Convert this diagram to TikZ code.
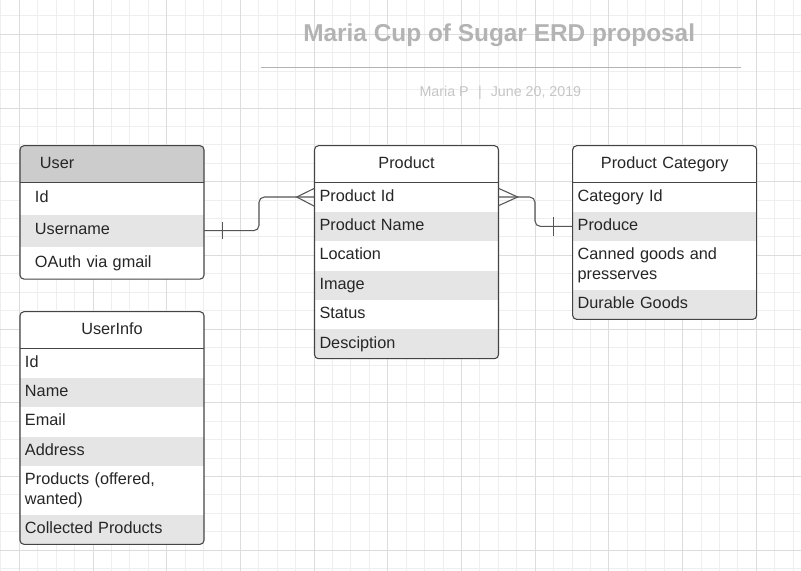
\documentclass[tikz,border=0pt]{standalone}
\usepackage{fontspec}
\setmainfont{Liberation Sans}
\usetikzlibrary{calc}
\definecolor{gminor}{HTML}{EEEEEE}
\definecolor{gmajor}{HTML}{DCDCDC}
\definecolor{hdrgray}{HTML}{CCCCCC}
\definecolor{rowgray}{HTML}{E5E5E5}
\definecolor{edgecol}{HTML}{444444}
\definecolor{conncol}{HTML}{555555}
\definecolor{inkcol}{HTML}{262626}
\definecolor{titlegray}{HTML}{B3B3B3}
\definecolor{subgray}{HTML}{C6C6C6}
\newcommand{\rowstrut}{\rule[-0.31em]{0pt}{1.117em}}
\begin{document}
\begin{tikzpicture}[x=0.75pt,y=-0.75pt,
  gridminor/.style={draw=gminor,line width=0.75pt},
  gridmajor/.style={draw=gmajor,line width=0.75pt},
  cell/.style={rectangle,anchor=north west,inner ysep=0pt,inner xsep=3.75pt,outer sep=0pt,
    text width=130.5pt,align=left,text=inkcol,minimum height=22.05pt,
    font=\fontsize{12.2pt}{14.5pt}\selectfont,
    execute at begin node=\rowstrut,execute at end node=\rowstrut},
  head/.style={cell,align=center,minimum height=27.45pt},
  ucell/.style={cell,inner xsep=11.25pt,text width=115.5pt,minimum height=24.2pt},
  shade/.style={fill=rowgray},
  frame/.style={draw=edgecol,line width=0.8pt,rounded corners=3pt},
  sep/.style={draw=edgecol,line width=0.8pt},
  conn/.style={draw=conncol,line width=0.8pt},
  titlestyle/.style={anchor=base,inner sep=0pt,text=titlegray,
    font=\fontsize{18.3pt}{22pt}\selectfont\bfseries},
  substyle/.style={inner sep=0pt,text=subgray,font=\fontsize{10.7pt}{13pt}\selectfont}
]
% background and bounding box
\fill[white] (0,0) rectangle (801,571);
\useasboundingbox (0,0) rectangle (801,571);
% grid
\foreach \i in {0,...,43} {\draw[gridminor] ({0.875+18.425*\i},0) -- ++(0,571);}
\foreach \i in {0,...,30} {\draw[gridminor] (0,{15.875+18.425*\i}) -- ++(801,0);}
\foreach \i in {0,...,10} {\draw[gridmajor] ({19.3+73.7*\i},0) -- ++(0,571);}
\foreach \i in {0,...,7} {\draw[gridmajor] (0,{34.3+73.7*\i}) -- ++(801,0);}

% title
\node[titlestyle] (title) at (499.2,41.7) {Maria Cup of Sugar ERD proposal};
\draw[titlegray,line width=1pt] (260.7,67.7) -- (740.7,67.7);
\node[substyle,anchor=base east] (subname) at (469,96) {Maria P};
\node[substyle,anchor=base] (subbar) at (480,96) {|};
\node[substyle,anchor=base west] (subdate) at (490.5,96) {June 20, 2019};

% User table
\begin{scope}
\clip[rounded corners=3pt] (20,145.7) rectangle (204,279.2);
\node[cell,fill=hdrgray,inner xsep=15pt,text width=108pt,minimum height=27.45pt] (uHead) at (20,145.7) {User};
\node[ucell,fill=white] (uId) at (uHead.south west) {Id};
\node[ucell,shade] (uUsername) at (uId.south west) {Username};
\node[ucell,fill=white] (uOAuth) at (uUsername.south west) {OAuth via gmail};
\end{scope}
\draw[frame] (uHead.north west) rectangle (uOAuth.south east);
\draw[sep] (uHead.south west) -- (uHead.south east);

% Product table
\begin{scope}
\clip[rounded corners=3pt] (314.5,145.7) rectangle (498.5,358.7);
\node[head,fill=white] (pHead) at (314.5,145.7) {Product};
\node[cell,fill=white] (pId) at (pHead.south west) {Product Id};
\node[cell,shade] (pName) at (pId.south west) {Product Name};
\node[cell,fill=white] (pLoc) at (pName.south west) {Location};
\node[cell,shade] (pImage) at (pLoc.south west) {Image};
\node[cell,fill=white] (pStatus) at (pImage.south west) {Status};
\node[cell,shade] (pDesc) at (pStatus.south west) {Desciption};
\end{scope}
\draw[frame] (pHead.north west) rectangle (pDesc.south east);
\draw[sep] (pHead.south west) -- (pHead.south east);

% Product Category table
\begin{scope}
\clip[rounded corners=3pt] (572.7,145.7) rectangle (756.7,319.3);
\node[head,fill=white] (cHead) at (572.7,145.7) {Product Category};
\node[cell,fill=white] (cId) at (cHead.south west) {Category Id};
\node[cell,shade,minimum height=22pt] (cProduce) at (cId.south west) {Produce};
\node[cell,fill=white,minimum height=36.75pt] (cCanned) at (cProduce.south west) {Canned goods and\\presserves};
\node[cell,shade,minimum height=22pt] (cDurable) at (cCanned.south west) {Durable Goods};
\end{scope}
\draw[frame] (cHead.north west) rectangle (cDurable.south east);
\draw[sep] (cHead.south west) -- (cHead.south east);

% UserInfo table
\begin{scope}
\clip[rounded corners=3pt] (20,311.7) rectangle (204,544.3);
\node[head,fill=white] (iHead) at (20,311.7) {UserInfo};
\node[cell,fill=white] (iId) at (iHead.south west) {Id};
\node[cell,shade,minimum height=21.75pt] (iName) at (iId.south west) {Name};
\node[cell,fill=white,minimum height=22.5pt] (iEmail) at (iName.south west) {Email};
\node[cell,shade,minimum height=21.75pt] (iAddress) at (iEmail.south west) {Address};
\node[cell,fill=white,minimum height=37pt] (iProducts) at (iAddress.south west) {Products (offered,\\wanted)};
\node[cell,shade,minimum height=22pt] (iCollected) at (iProducts.south west) {Collected Products};
\end{scope}
\draw[frame] (iHead.north west) rectangle (iCollected.south east);
\draw[sep] (iHead.south west) -- (iHead.south east);

% User -> Product (one to many)
\draw[conn,rounded corners=4pt] (uUsername.east) -- ++(55,0) |- (pId.west);
\draw[conn] ($(uUsername.east)+(18.7,-8.5)$) -- ++(0,17);
\draw[conn] ($(pId.west)+(0,-8.7)$) -- ++(-17.8,8.7) -- ++(17.8,9.3);

% Product -> Product Category (many to one)
\draw[conn,rounded corners=4pt] (pId.east) -- ++(36.5,0) |- (cProduce.west);
\draw[conn] ($(pId.east)+(0,-8.7)$) -- ++(19.2,8.7) -- ++(-19.2,8.7);
\draw[conn] ($(cProduce.west)+(-19.4,-9.2)$) -- ++(0,18.4);
\end{tikzpicture}
\end{document}
